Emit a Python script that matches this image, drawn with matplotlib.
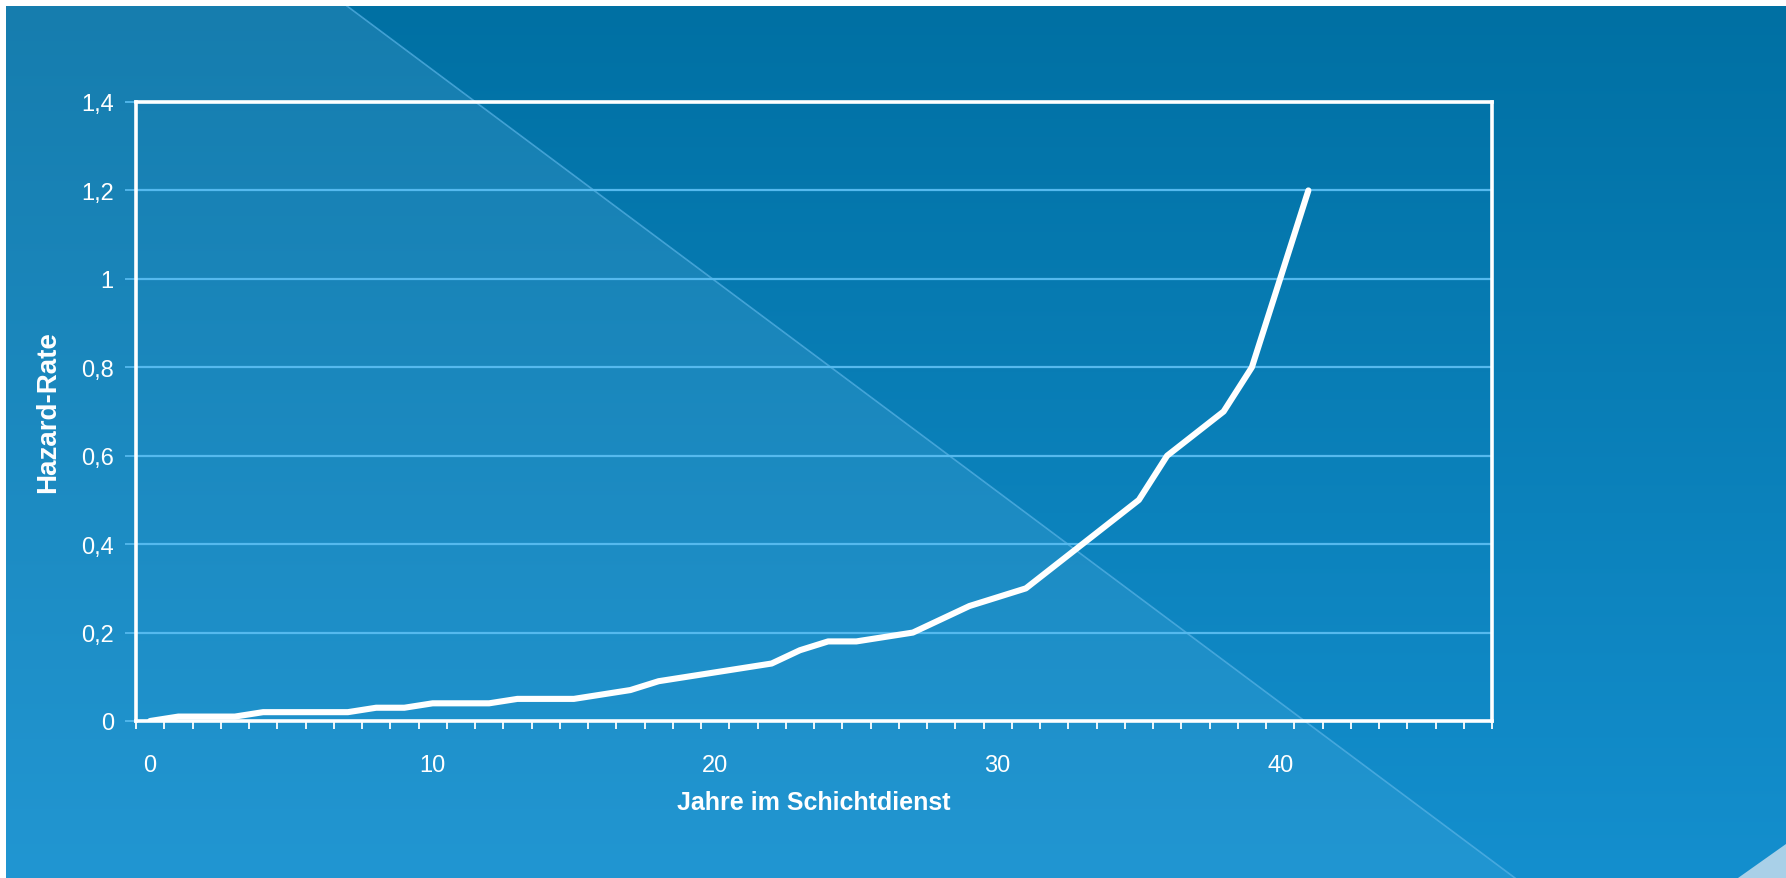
import numpy as np
import matplotlib
matplotlib.use("Agg")
import matplotlib.pyplot as plt
from matplotlib.patches import Polygon
from matplotlib.ticker import FixedLocator, FuncFormatter

# ---- data ----
years = list(range(0, 42))
hazard = [0.00, 0.01, 0.01, 0.01, 0.02, 0.02, 0.02, 0.02, 0.03, 0.03,
          0.04, 0.04, 0.04, 0.05, 0.05, 0.05, 0.06, 0.07, 0.09, 0.10,
          0.11, 0.12, 0.13, 0.16, 0.18, 0.18, 0.19, 0.20, 0.23, 0.26,
          0.28, 0.30, 0.35, 0.40, 0.45, 0.50, 0.60, 0.65, 0.70, 0.80,
          1.00, 1.20]
n_categories = 48
y_ticks = [0, 0.2, 0.4, 0.6, 0.8, 1.0, 1.2, 1.4]
x_tick_labels = [0, 10, 20, 30, 40]
x_label = "Jahre im Schichtdienst"
y_label = "Hazard-Rate"

W, H = 1786, 879
fig = plt.figure(figsize=(W / 100, H / 100), dpi=100)
fig.patch.set_facecolor("white")

# ---- background ----
bg = fig.add_axes([0, 0, 1, 1], zorder=0)
bg.set_xlim(0, W)
bg.set_ylim(H, 0)
bg.axis("off")
yy, xx = np.mgrid[0:H, 0:W].astype(float)
t = np.clip((yy - 7) / (H - 7), 0, 1)[..., None]
right_top = np.array([0, 112, 163]) / 255
right_bot = np.array([20, 143, 206]) / 255
left_top = np.array([22, 125, 174]) / 255
left_bot = np.array([33, 150, 210]) / 255
right = right_top * (1 - t) + right_bot * t
left = left_top * (1 - t) + left_bot * t
# diagonal from (347,7) to (1515,879)
x0, y0, x1, y1 = 347, 7, 1515, 879
side = (xx - x0) * (y1 - y0) - (yy - y0) * (x1 - x0)
mask = (side < 0)[..., None]
img = np.where(mask, left, right)
bg.imshow(img, extent=(0, W, H, 0), aspect="auto", zorder=0)
bg.plot([x0, x1], [y0, y1], color=(0.35, 0.70, 0.90), lw=1.2, alpha=0.7, zorder=1)
bg.add_patch(Polygon([[1738, H], [W, 845], [W, H]], closed=True,
                     facecolor="#a9d0e8", edgecolor="none", zorder=2))
# white frame strips (top & left)
bg.add_patch(Polygon([[0, 0], [W, 0], [W, 7], [0, 7]], facecolor="white", edgecolor="none", zorder=3))
bg.add_patch(Polygon([[0, 0], [6, 0], [6, H], [0, H]], facecolor="white", edgecolor="none", zorder=3))

# ---- chart ----
left_px, right_px, top_px, bot_px = 136, 1492, 103, 722
ax = fig.add_axes([left_px / W, 1 - bot_px / H, (right_px - left_px) / W, (bot_px - top_px) / H], zorder=2)
ax.patch.set_alpha(0)

ax.plot(years, hazard, color="white", lw=4.4, solid_joinstyle="round",
        solid_capstyle="round", zorder=3)

ax.set_xlim(-0.5, n_categories - 0.5)
ax.set_ylim(0, 1.4)

ax.set_yticks(y_ticks)
ax.yaxis.set_major_formatter(FuncFormatter(lambda v, p: ("%g" % round(v, 1)).replace(".", ",")))
ax.grid(axis="y", color="#55b9ee", lw=1.6)
ax.set_axisbelow(True)

ax.xaxis.set_major_locator(FixedLocator(x_tick_labels))
ax.xaxis.set_minor_locator(FixedLocator(np.arange(-0.5, n_categories, 1.0)))
ax.tick_params(axis="x", which="major", length=0, pad=24, labelsize=17, labelcolor="white")
ax.tick_params(axis="x", which="minor", length=6, width=1.3, color="white", direction="out")
ax.tick_params(axis="y", which="major", length=8, width=1.3, color="#55b9ee", pad=8,
               labelsize=17, labelcolor="white")

for s in ax.spines.values():
    s.set_color("white")
    s.set_linewidth(2.6)

for lab in ax.get_xticklabels() + ax.get_yticklabels():
    lab.set_family(["Liberation Sans", "DejaVu Sans"])

ax.set_xlabel(x_label, color="white", fontsize=18, fontweight="bold",
              family=["Liberation Sans", "DejaVu Sans"], labelpad=10)
ax.set_ylabel(y_label, color="white", fontsize=20, fontweight="bold",
              family=["Liberation Sans", "DejaVu Sans"], labelpad=14)

fig.savefig("out.png", dpi=100)
